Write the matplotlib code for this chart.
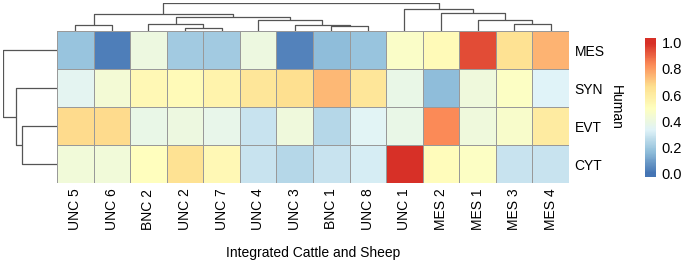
import matplotlib
matplotlib.use("Agg")
import matplotlib.pyplot as plt
import numpy as np
from matplotlib.colors import LinearSegmentedColormap

plt.rcParams['font.family'] = ['Liberation Sans', 'DejaVu Sans']

# ---- data ----
col_labels = ["UNC 5", "UNC 6", "BNC 2", "UNC 2", "UNC 7", "UNC 4", "UNC 3",
              "BNC 1", "UNC 8", "UNC 1", "MES 2", "MES 1", "MES 3", "MES 4"]
row_labels = ["MES", "SYN", "EVT", "CYT"]

mes = [0.18, 0.02, 0.40, 0.20, 0.20, 0.40, 0.03, 0.16, 0.18, 0.47, 0.52, 0.94, 0.65, 0.75]
syn = [0.35, 0.43, 0.53, 0.52, 0.57, 0.63, 0.66, 0.74, 0.63, 0.38, 0.16, 0.41, 0.48, 0.33]
evt = [0.67, 0.67, 0.38, 0.40, 0.37, 0.29, 0.41, 0.24, 0.34, 0.38, 0.83, 0.41, 0.46, 0.60]
cyt = [0.42, 0.42, 0.50, 0.65, 0.53, 0.29, 0.24, 0.28, 0.31, 1.00, 0.51, 0.48, 0.29, 0.29]

# dendrograms: leaf = index, node = (left, right, merge height)
col_tree = (((0, 1, 6.0),
             ((2, (3, 4, 3.3), 6.7),
              (5, (6, (7, 8, 5.0), 6.3), 11.0), 13.7), 16.7),
            (9, (10, (11, (12, 13, 6.7), 11.0), 18.3), 22.0), 27.7)
row_tree = (0, (1, (2, 3, 34.3), 40.3), 53.0)

values = np.array([mes, syn, evt, cyt])

# pheatmap default palette
pal = ["#4575B4", "#91BFDB", "#E0F3F8", "#FFFFBF", "#FEE090", "#FC8D59", "#D73027"]
cmap = LinearSegmentedColormap.from_list("rdylbu", pal, N=100)

W, H = 685, 263
fig = plt.figure(figsize=(W / 100, H / 100), dpi=100)


def box(x0, y0, x1, y1):
    # pixel box (top-left origin) -> figure fraction rect
    return [x0 / W, 1 - y1 / H, (x1 - x0) / W, (y1 - y0) / H]


hm_l, hm_r, hm_t, hm_b = 57, 569, 31, 183

ax = fig.add_axes(box(hm_l, hm_t, hm_r, hm_b))
ax.pcolormesh(values, cmap=cmap, vmin=0, vmax=1, edgecolors="#999999", linewidth=0.6)
ax.set_xlim(0, len(col_labels))
ax.set_ylim(len(row_labels), 0)
ax.set_xticks(np.arange(len(col_labels)) + 0.5)
ax.set_xticklabels(col_labels, rotation=90, fontsize=10)
ax.set_yticks(np.arange(len(row_labels)) + 0.5)
ax.set_yticklabels(row_labels, fontsize=10, va="top")
ax.yaxis.tick_right()
ax.tick_params(length=0, pad=4)
for lbl in ax.get_yticklabels():
    lbl.set_va("center_baseline")
for s in ax.spines.values():
    s.set_visible(False)
ax.set_xlabel("Integrated Cattle and Sheep", fontsize=10, labelpad=11)
ax.yaxis.set_label_position("right")
ax.set_ylabel("Human", fontsize=10, rotation=270, labelpad=13)

line_kw = dict(color="#555555", lw=0.9, solid_capstyle="butt")


def draw_tree(a, node, top):
    if isinstance(node, int):
        return node + 0.5, 0.0
    lp, lh = draw_tree(a, node[0], top)
    rp, rh = draw_tree(a, node[1], top)
    h = node[2]
    if top:
        a.plot([lp, lp, rp, rp], [lh, h, h, rh], **line_kw)
    else:
        a.plot([lh, h, h, rh], [lp, lp, rp, rp], **line_kw)
    return (lp + rp) / 2, h


axd = fig.add_axes(box(hm_l, 3, hm_r, hm_t))
draw_tree(axd, col_tree, True)
axd.set_xlim(0, len(col_labels))
axd.set_ylim(0, col_tree[2])
axd.axis("off")

axr = fig.add_axes(box(3, hm_t, hm_l, hm_b))
draw_tree(axr, row_tree, False)
axr.set_ylim(len(row_labels), 0)
axr.set_xlim(row_tree[2], 0)
axr.axis("off")

# colour legend
lo, hi = -0.023, 1.034
axc = fig.add_axes(box(645, 38, 656, 177))
grad = np.linspace(lo, hi, 200).reshape(-1, 1)
axc.imshow(grad, cmap=cmap, vmin=0, vmax=1, aspect="auto", origin="lower",
           extent=[0, 1, lo, hi])
axc.set_ylim(lo, hi)
axc.set_xticks([])
axc.set_yticks([0, 0.2, 0.4, 0.6, 0.8, 1.0])
axc.set_yticklabels(["0.0", "0.2", "0.4", "0.6", "0.8", "1.0"], fontsize=10.5)
axc.yaxis.tick_right()
axc.tick_params(length=0, pad=4)
for s in axc.spines.values():
    s.set_visible(False)

fig.savefig("out.png", dpi=100)
